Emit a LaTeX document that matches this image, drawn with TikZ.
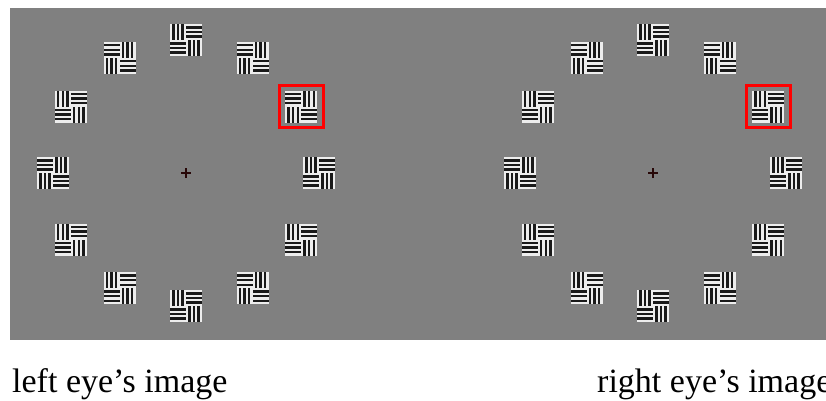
\documentclass[tikz,border=0pt]{standalone}
\usepackage{fontspec}
\setmainfont{Liberation Serif}
\usepackage{xcolor}

\definecolor{screen}{gray}{0.5}
\definecolor{barlight}{gray}{0.93}
\definecolor{bardark}{gray}{0.1}
\definecolor{fixdark}{RGB}{40,8,8}

\begin{document}
\begin{tikzpicture}[
    x=1pt, y=-1pt,
    eyelabel/.style={font=\fontsize{34}{40}\selectfont, inner sep=0pt, anchor=base west},
    target/.style={draw=red, line width=3pt},
    fixation/.style={draw=fixdark, line width=1.4pt},
    pics/bars/.style={code={
        \begin{scope}[rotate=#1]
            \fill[barlight] (-8,-8) rectangle (8,8);
            \foreach \k in {1,3,5}
                \fill[bardark] ({-8+\k*16/7},-8) rectangle ({-8+(\k+1)*16/7},8);
        \end{scope}
    }},
    pics/patch/.style={code={
        \pic at (-8,-8) {bars=#1};
        \pic at (8,-8) {bars={90-#1}};
        \pic at (-8,8) {bars={90-#1}};
        \pic at (8,8) {bars=#1};
    }}
]

    % Page and screen
    \clip (0,0) rectangle (826,400);
    \fill[screen] (10,8) rectangle (830,340);

    % Eye centres
    \coordinate (lefteye) at (186,173);
    \coordinate (righteye) at (653,173);

    % Ring of patches, clockwise from the top (0 = vertical first)
    \foreach \ang/\kind in {0/0,30/90,60/90,90/0,120/0,150/90,180/0,210/0,240/0,270/90,300/0,330/90}
        \pic at ([shift={({133*sin(\ang)},{-133*cos(\ang)})}]lefteye) {patch=\kind};
    \foreach \ang/\kind in {0/0,30/90,60/0,90/0,120/0,150/90,180/0,210/0,240/0,270/90,300/0,330/90}
        \pic at ([shift={({133*sin(\ang)},{-133*cos(\ang)})}]righteye) {patch=\kind};

    % Odd one out
    \coordinate (lefttarget) at ([shift={({133*sin(60)},{-133*cos(60)})}]lefteye);
    \coordinate (righttarget) at ([shift={({133*sin(60)},{-133*cos(60)})}]righteye);
    \draw[target] ([shift={(-22,-21)}]lefttarget) rectangle ([shift={(22,21)}]lefttarget);
    \draw[target] ([shift={(-22,-21)}]righttarget) rectangle ([shift={(22,21)}]righttarget);

    % Fixation crosses
    \foreach \c in {lefteye,righteye} {
        \draw[fixation] ([xshift=-5pt]\c) -- ([xshift=5pt]\c);
        \draw[fixation] ([yshift=-5pt]\c) -- ([yshift=5pt]\c);
    }

    % Captions
    \node[eyelabel] (leftcap) at (12,392) {left eye’s image};
    \node[eyelabel] (rightcap) at (597,392) {right eye’s image};

\end{tikzpicture}
\end{document}
